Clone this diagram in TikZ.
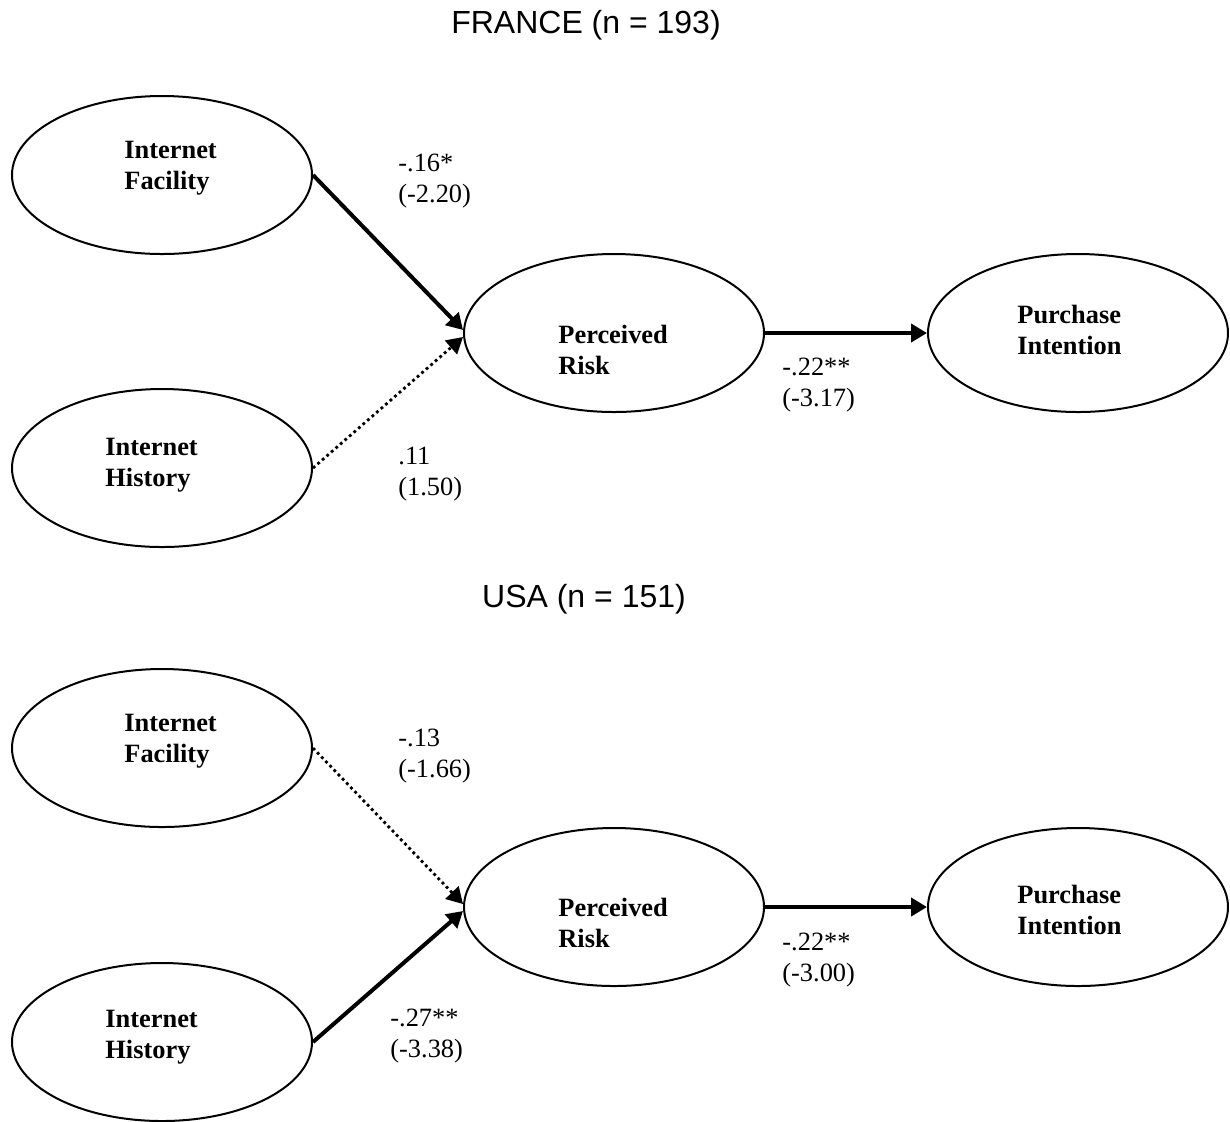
\documentclass[tikz,border=0pt]{standalone}
\usepackage{fontspec}
\setmainfont{Liberation Serif}
\newfontfamily\titlefont{Liberation Sans}
\usepackage{tikz}
\usetikzlibrary{shapes,arrows.meta,positioning,calc}

\begin{document}
\begin{tikzpicture}[x=0.5pt,y=-0.5pt,
    construct/.style={draw, ellipse, line width=1pt, minimum width=150pt, minimum height=79pt, inner sep=0pt},
    cname/.style={anchor=west, align=left, inner sep=0pt, font=\fontsize{13.2}{15.5}\selectfont\bfseries},
    coef/.style={anchor=west, align=left, inner sep=0pt, font=\fontsize{13.2}{15.5}\selectfont},
    sig/.style={line width=2pt, -{Triangle[length=8pt,width=9pt]}},
    nonsig/.style={line width=1.4pt, dash pattern=on 1.4pt off 1.6pt, -{Triangle[length=8pt,width=9pt]}},
    heading/.style={anchor=base, inner sep=0pt, font=\titlefont\fontsize{16}{19}\selectfont}]
    \useasboundingbox (0,0) rectangle (1230,1121);

    % France
    \node[heading] (fTitle) at (586,33) {FRANCE (n = 193)};
    \node[construct] (fIF) at (162,175) {};
    \node[construct] (fIH) at (162,468) {};
    \node[construct] (fPR) at (614,333) {};
    \node[construct] (fPI) at (1078,333) {};
    \node[cname] (fIFt) at (124,168) {Internet\\Facility};
    \node[cname] (fIHt) at (105,465) {Internet\\History};
    \node[cname] (fPRt) at (558,350) {Perceived\\Risk};
    \node[cname] (fPIt) at (1017,330) {Purchase\\Intention};
    \draw[sig] (fIF.east) -- ([yshift=1.5pt]fPR.west); % significant
    \draw[nonsig] (fIH.east) -- ([yshift=-2pt]fPR.west); % not significant
    \draw[sig] (fPR) -- (fPI);
    \node[coef] (fc1) at (398,181) {-.16*\\(-2.20)};
    \node[coef] (fc2) at (398,474) {.11\\(1.50)};
    \node[coef] (fc3) at (782,385) {-.22**\\(-3.17)};

    % USA
    \node[heading] (uTitle) at (584,607) {USA (n = 151)};
    \node[construct] (uIF) at (162,748) {};
    \node[construct] (uIH) at (162,1042) {};
    \node[construct] (uPR) at (614,907) {};
    \node[construct] (uPI) at (1078,907) {};
    \node[cname] (uIFt) at (124,741) {Internet\\Facility};
    \node[cname] (uIHt) at (105,1037) {Internet\\History};
    \node[cname] (uPRt) at (558,923) {Perceived\\Risk};
    \node[cname] (uPIt) at (1017,910) {Purchase\\Intention};
    \draw[nonsig] (uIF.east) -- ([yshift=1.5pt]uPR.west); % not significant
    \draw[sig] (uIH.east) -- ([yshift=-2pt]uPR.west); % significant
    \draw[sig] (uPR) -- (uPI);
    \node[coef] (uc1) at (398,756) {-.13\\(-1.66)};
    \node[coef] (uc2) at (390,1036) {-.27**\\(-3.38)};
    \node[coef] (uc3) at (782,960) {-.22**\\(-3.00)};
\end{tikzpicture}
\end{document}
